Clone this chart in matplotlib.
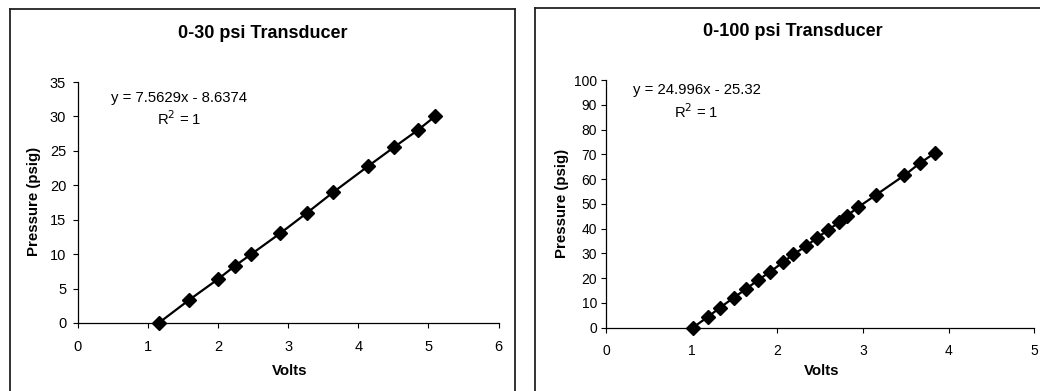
import matplotlib
matplotlib.use("Agg")
import matplotlib.pyplot as plt
from matplotlib.lines import Line2D

plt.rcParams['font.family'] = ['Liberation Sans', 'DejaVu Sans']

# Data: 0-30 psi transducer
volts_30 = [1.151, 1.579, 2.002, 2.240, 2.473, 2.882, 3.268, 3.643, 4.143, 4.505, 4.847, 5.094]
psig_30 = [0.0, 3.3, 6.4, 8.3, 10.0, 13.0, 16.0, 19.0, 22.8, 25.5, 28.0, 30.0]

# Data: 0-100 psi transducer
volts_100 = [1.012, 1.187, 1.331, 1.490, 1.638, 1.770, 1.918, 2.066, 2.187, 2.331,
             2.463, 2.587, 2.720, 2.813, 2.942, 3.156, 3.482, 3.661, 3.840]
psig_100 = [0.0, 4.3, 8.1, 12.1, 15.7, 19.1, 22.6, 26.4, 29.6, 32.8,
            36.3, 39.3, 42.5, 45.2, 48.6, 53.7, 61.5, 66.3, 70.6]

titles = ["0-30 psi Transducer", "0-100 psi Transducer"]
equations = ["y = 7.5629x - 8.6374", "y = 24.996x - 25.32"]
xticks_30 = [0, 1, 2, 3, 4, 5, 6]
yticks_30 = [0, 5, 10, 15, 20, 25, 30, 35]
xticks_100 = [0, 1, 2, 3, 4, 5]
yticks_100 = [0, 10, 20, 30, 40, 50, 60, 70, 80, 90, 100]

W, H = 1040, 391
fig = plt.figure(figsize=(W / 100, H / 100), dpi=100)

def fx(px):
    return px / W

def fy(py):
    return 1 - py / H

# panel borders
bc = '#222222'
fig.add_artist(Line2D([fx(9.5), fx(9.5)], [fy(8.5), 0], transform=fig.transFigure, color=bc, lw=1.3))
fig.add_artist(Line2D([fx(9.5), fx(514.5)], [fy(8.5), fy(8.5)], transform=fig.transFigure, color=bc, lw=1.3))
fig.add_artist(Line2D([fx(514.5), fx(514.5)], [fy(8.5), 0], transform=fig.transFigure, color=bc, lw=1.3))
fig.add_artist(Line2D([fx(534.5), fx(534.5)], [fy(7.5), 0], transform=fig.transFigure, color=bc, lw=1.3))
fig.add_artist(Line2D([fx(534.5), 1], [fy(7.5), fy(7.5)], transform=fig.transFigure, color=bc, lw=1.3))

ax1 = fig.add_axes([fx(78), fy(323), fx(498.5) - fx(78), fy(82) - fy(323)])
ax2 = fig.add_axes([fx(606), fy(327.7), fx(1034.3) - fx(606), fy(80) - fy(327.7)])

def style(ax, xt, yt, fs):
    for s in ['top', 'right']:
        ax.spines[s].set_visible(False)
    for s in ['left', 'bottom']:
        ax.spines[s].set_color('black')
        ax.spines[s].set_linewidth(0.9)
    ax.set_xticks(xt)
    ax.set_yticks(yt)
    ax.set_xlim(xt[0], xt[-1])
    ax.set_ylim(yt[0], yt[-1])
    ax.tick_params(direction='out', length=3.5, width=0.8, labelsize=fs, pad=3, colors='black')
    ax.patch.set_alpha(0)

style(ax1, xticks_30, yticks_30, 10.5)
style(ax2, xticks_100, yticks_100, 10)
ax1.tick_params(axis='y', pad=5)
ax2.tick_params(axis='y', pad=3)
ax1.tick_params(axis='x', pad=9)
ax2.tick_params(axis='x', pad=8)

for ax, xv, yv in [(ax1, volts_30, psig_30), (ax2, volts_100, psig_100)]:
    ax.plot(xv, yv, color='black', lw=1.6, marker='D', ms=7.2, mfc='black', mec='black',
            clip_on=False, zorder=3)

# titles
fig.text(fx(262.5), fy(33), titles[0], ha='center', va='center', fontsize=13, fontweight='bold')
fig.text(fx(793), fy(32), titles[1], ha='center', va='center', fontsize=13, fontweight='bold')

# axis labels
fig.text(fx(289.5), fy(371), "Volts", ha='center', va='center', fontsize=10.8, fontweight='bold')
fig.text(fx(822), fy(371), "Volts", ha='center', va='center', fontsize=10.8, fontweight='bold')
fig.text(fx(34), fy(201), "Pressure (psig)", ha='center', va='center', rotation=90, fontsize=10.8, fontweight='bold')
fig.text(fx(562), fy(203), "Pressure (psig)", ha='center', va='center', rotation=90, fontsize=10.8, fontweight='bold')

# equations
fig.text(fx(179), fy(98), equations[0], ha='center', va='center', fontsize=10.7)
fig.text(fx(179.5), fy(119), r"R$^2$ = 1", ha='center', va='center', fontsize=10.7)
fig.text(fx(696.5), fy(90), equations[1], ha='center', va='center', fontsize=10.7)
fig.text(fx(696.5), fy(112), r"R$^2$ = 1", ha='center', va='center', fontsize=10.7)

fig.savefig("out.png", dpi=100)
